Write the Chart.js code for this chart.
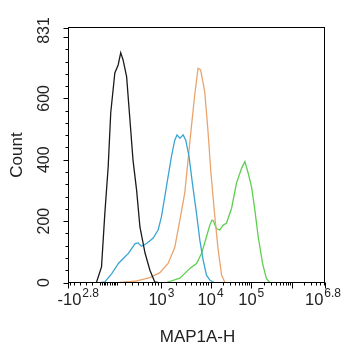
<!DOCTYPE html>
<html>
<head>
<meta charset="utf-8">
<script src="https://cdn.jsdelivr.net/npm/chart.js@4"></script>
<style>
  html, body { margin: 0; padding: 0; background: #fff; }
</style>
</head>
<body>
<canvas id="chart" width="342" height="350"></canvas>
<script>
// channel = position along the MAP1A-H display axis, 0 (left) .. 1000 (right)
const blackCh    = [109, 129, 142, 155, 165, 181, 194, 204, 213, 227, 239, 252, 266, 279, 299, 318, 337, 349];
const blackCount = [0, 51, 226, 377, 553, 683, 709, 749, 726, 671, 541, 399, 301, 181, 96, 40, 2, 0];

const blueCh    = [127, 142, 169, 195, 214, 234, 260, 272, 285, 305, 330, 350, 363, 376, 389, 402, 415, 424, 435, 448, 458, 471, 484, 500, 513, 526, 539, 552, 568];
const blueCount = [0, 2, 29, 62, 78, 95, 127, 129, 118, 127, 144, 171, 214, 279, 345, 410, 464, 481, 470, 481, 464, 410, 323, 225, 138, 73, 24, 8, 0];

const orangeCh    = [200, 259, 318, 357, 389, 415, 435, 454, 467, 480, 493, 506, 516, 525, 532, 545, 556, 571, 584, 598, 611];
const orangeCount = [0, 4, 16, 32, 62, 114, 203, 291, 399, 507, 611, 698, 693, 654, 622, 492, 361, 220, 111, 24, 0];

const greenCh    = [383, 435, 474, 500, 520, 539, 552, 560, 565, 578, 591, 604, 617, 637, 656, 676, 689, 702, 715, 728, 741, 758, 773, 786];
const greenCount = [0, 14, 46, 62, 95, 149, 187, 203, 202, 176, 171, 187, 193, 242, 323, 372, 394, 356, 312, 236, 149, 62, 13, 0];

const xTickLabels = ['-10^2.8', '10^3', '10^4', '10^5', '10^6.8'];
const xTickValues = [-Math.pow(10, 2.8), 1e3, 1e4, 1e5, Math.pow(10, 6.8)];
const yTickValues = [0, 200, 400, 600, 831];

const FONT = '"Liberation Sans", Arial, sans-serif';

// logicle-like mapping from intensity to display channel
function chanOf(v) {
  const a = Math.abs(v);
  if (a <= 1000) return 157 + 206 * Math.asinh(v / 350) / Math.asinh(1000 / 350);
  if (a < 10000) return 363 + (Math.log10(v) - 3) * 192;
  return 555 + (Math.log10(v) - 4) * 159;
}

function pts(xs, ys) {
  return xs.map((x, i) => ({ x: x, y: ys[i] }));
}

const xMinor = [];
for (let v = -600; v <= -100; v += 100) xMinor.push(v);
[-80, -60, -40, -20, 20, 40, 60, 80].forEach(v => xMinor.push(v));
for (let v = 100; v <= 900; v += 100) xMinor.push(v);
[3, 4, 5].forEach(n => { for (let k = 2; k <= 9; k++) xMinor.push(k * Math.pow(10, n)); });
for (let k = 2; k <= 6; k++) xMinor.push(k * 1e6);

const flowAxes = {
  id: 'flowAxes',
  afterDraw(chart) {
    const { ctx, chartArea: a, scales: { x, y } } = chart;
    ctx.save();
    ctx.strokeStyle = '#000';
    ctx.fillStyle = '#222';
    ctx.lineWidth = 1;
    ctx.strokeRect(a.left, a.top, a.right - a.left, a.bottom - a.top);

    // x tick marks
    ctx.beginPath();
    xMinor.forEach(v => {
      const px = Math.round(x.getPixelForValue(chanOf(v))) + 0.5;
      ctx.moveTo(px, a.bottom); ctx.lineTo(px, a.bottom + 3);
    });
    xTickValues.concat([1e6]).forEach(v => {
      const px = Math.round(x.getPixelForValue(chanOf(v))) + 0.5;
      ctx.moveTo(px, a.bottom); ctx.lineTo(px, a.bottom + 6);
    });
    // y tick marks
    for (let c = 40; c < 831; c += 40) {
      const py = Math.round(y.getPixelForValue(c)) + 0.5;
      const len = c % 200 === 0 ? 5 : 3;
      ctx.moveTo(a.left, py); ctx.lineTo(a.left - len, py);
    }
    [0, 831].forEach(c => {
      const py = Math.round(y.getPixelForValue(c)) + 0.5;
      ctx.moveTo(a.left, py); ctx.lineTo(a.left - 5, py);
    });
    ctx.stroke();

    // x tick labels with superscript exponents
    xTickLabels.forEach((lab, i) => {
      const [base, exp] = lab.split('^');
      ctx.font = '16.5px ' + FONT;
      const wb = ctx.measureText(base).width;
      ctx.font = '12px ' + FONT;
      const we = ctx.measureText(exp).width;
      const w = wb + we + 1;
      const tx = x.getPixelForValue(chanOf(xTickValues[i]));
      let left = tx - w / 2;
      if (i === 0) left = tx - 11;
      if (left + w > chart.width - 1) left = chart.width - 1 - w;
      ctx.textAlign = 'left';
      ctx.textBaseline = 'alphabetic';
      ctx.font = '16.5px ' + FONT;
      ctx.fillText(base, left, 305);
      ctx.font = '12px ' + FONT;
      ctx.fillText(exp, left + wb + 1, 297);
    });

    // y tick labels, rotated
    ctx.font = '16px ' + FONT;
    ctx.textAlign = 'center';
    ctx.textBaseline = 'middle';
    yTickValues.forEach(c => {
      const py = Math.max(y.getPixelForValue(c), a.top + 3);
      ctx.save();
      ctx.translate(44.5, py);
      ctx.rotate(-Math.PI / 2);
      ctx.fillText(String(c), 0, 0);
      ctx.restore();
    });

    // axis titles
    ctx.font = '17px ' + FONT;
    ctx.save();
    ctx.translate(17.5, 155);
    ctx.rotate(-Math.PI / 2);
    ctx.fillText('Count', 0, 0);
    ctx.restore();
    ctx.fillText('MAP1A-H', (a.left + a.right) / 2 + 1, 337);
    ctx.restore();
  }
};

function series(xs, ys, color) {
  return {
    data: pts(xs, ys),
    borderColor: color,
    borderWidth: 1.3,
    pointRadius: 0,
    tension: 0,
    fill: false,
    clip: 4
  };
}

new Chart(document.getElementById('chart'), {
  type: 'line',
  data: {
    datasets: [
      series(blackCh, blackCount, '#1a1a1a'),
      series(blueCh, blueCount, '#3aa4d2'),
      series(orangeCh, orangeCount, '#e9a46e'),
      series(greenCh, greenCount, '#5ccf4e')
    ]
  },
  options: {
    responsive: false,
    animation: false,
    layout: { padding: { left: 68.5, right: 17.5, top: 27.5, bottom: 67.5 } },
    plugins: { legend: { display: false }, tooltip: { enabled: false } },
    scales: {
      x: { type: 'linear', min: 0, max: 1000, display: false },
      y: { type: 'linear', min: 0, max: 831, display: false }
    }
  },
  plugins: [flowAxes]
});
</script>
</body>
</html>
